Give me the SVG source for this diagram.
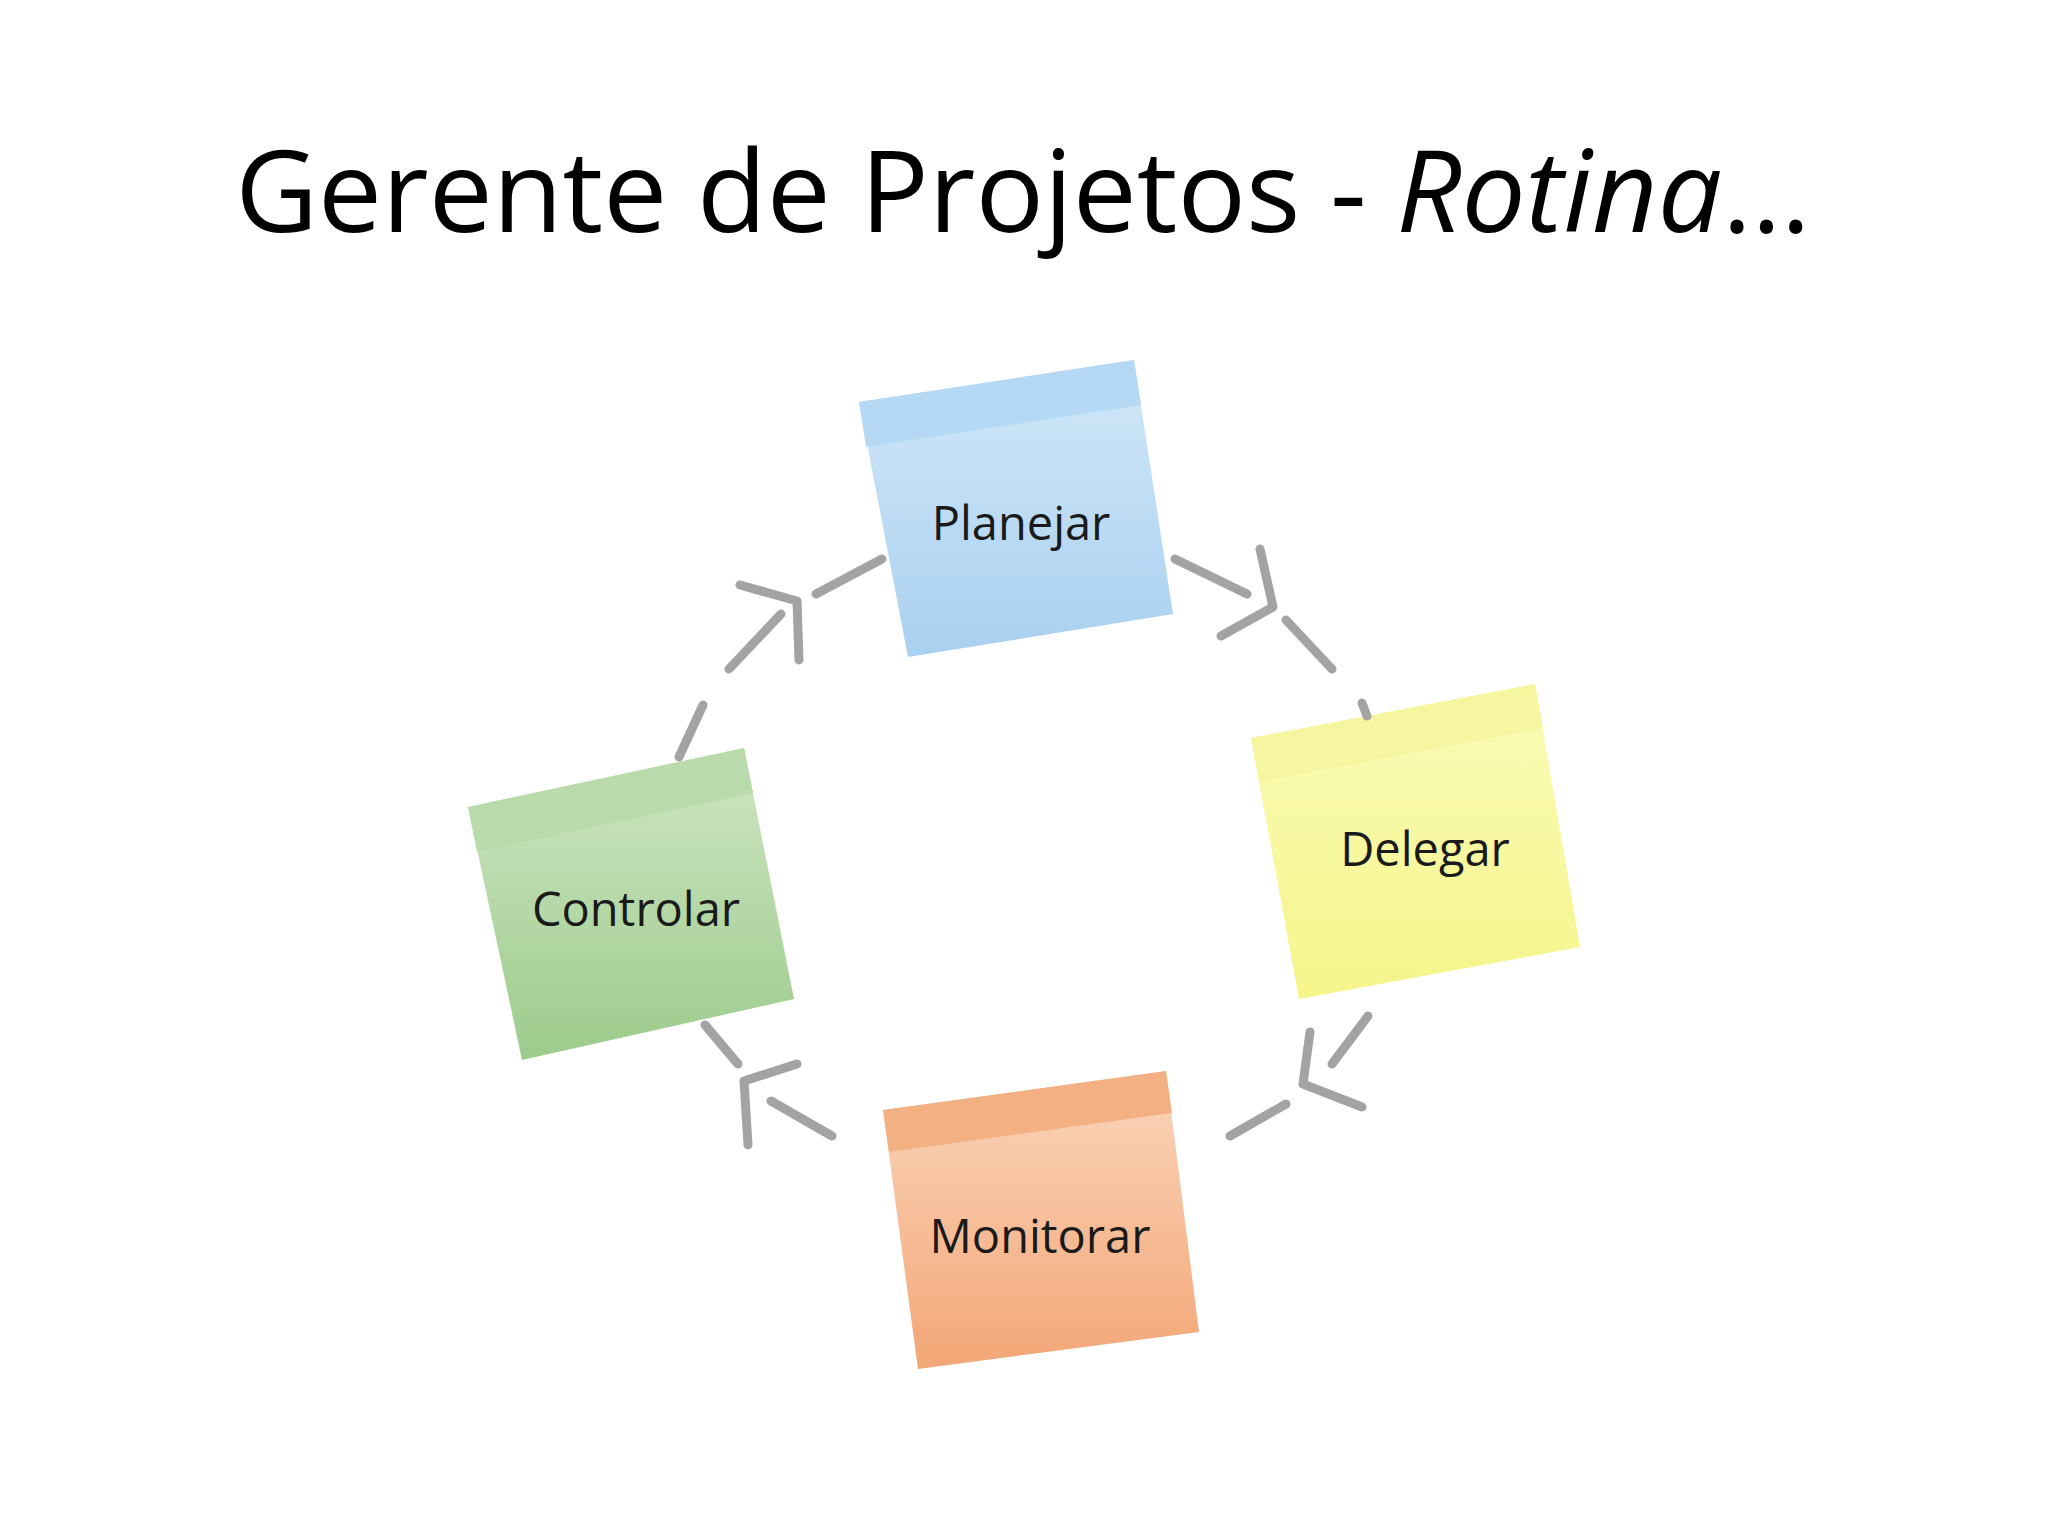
<svg xmlns="http://www.w3.org/2000/svg" width="2048" height="1536" viewBox="0 0 2048 1536">
<style>
.t{font-family:"Open Sans","Liberation Sans",sans-serif;fill:#1a1a1a;text-anchor:middle}
.c{stroke:#a3a3a3;stroke-width:9;stroke-linecap:round;stroke-linejoin:round;fill:none}
</style>
<defs>
<linearGradient id="gb" x1="0" y1="0" x2="0" y2="1"><stop offset="0" stop-color="#d2e8f8"/><stop offset="1" stop-color="#a9d0f0"/></linearGradient>
<linearGradient id="gy" x1="0" y1="0" x2="0" y2="1"><stop offset="0" stop-color="#fafbb8"/><stop offset="1" stop-color="#f5f58a"/></linearGradient>
<linearGradient id="gg" x1="0" y1="0" x2="0" y2="1"><stop offset="0" stop-color="#d0e6c4"/><stop offset="1" stop-color="#9ccb8c"/></linearGradient>
<linearGradient id="go" x1="0" y1="0" x2="0" y2="1"><stop offset="0" stop-color="#fad6bc"/><stop offset="1" stop-color="#f3a676"/></linearGradient>
</defs>
<rect width="2048" height="1536" fill="#fff"/>
<text x="1023" y="232" font-size="114" class="t" style="fill:#000">Gerente de Projetos - <tspan font-style="italic">Rotina</tspan>…</text>
<g id="planejar">
<polygon points="859,402 1134,360 1173,614 908,657" fill="url(#gb)"/>
<polygon points="859,402 1134,360 1141,405 866,447" fill="#b5d9f5"/>
<text x="1021" y="540" font-size="47" class="t">Planejar</text>
</g>
<g id="delegar">
<polygon points="1251,738 1535,684 1580,947 1299,999" fill="url(#gy)"/>
<polygon points="1251,738 1535,684 1543,728 1259,782" fill="#f6f5a0"/>
<text x="1425" y="866" font-size="47" class="t">Delegar</text>
</g>
<g id="controlar">
<polygon points="468,807 744,748 794,999 522,1060" fill="url(#gg)"/>
<polygon points="468,807 744,748 753,793 477,852" fill="#b9dbab"/>
<text x="636" y="926" font-size="47" class="t">Controlar</text>
</g>
<g id="monitorar">
<polygon points="883,1110 1166,1071 1199,1332 918,1369" fill="url(#go)"/>
<polygon points="883,1110 1166,1071 1172,1113 889,1152" fill="#f3b183"/>
<text x="1040" y="1253" font-size="47" class="t">Monitorar</text>
</g>
<g id="connectors">
<path class="c" d="M1175,559 L1247,594 M1260,549 L1273,607 L1221,636 M1286,620 L1332,669 M1362,703 L1367,716"/>
<path class="c" d="M1368,1016 L1332,1064 M1310,1032 L1303,1084 L1362,1107 M1286,1104 L1230,1136"/>
<path class="c" d="M832,1136 L771,1101 M797,1064 L744,1081 L748,1145 M738,1064 L705,1025"/>
<path class="c" d="M679,757 L703,705 M729,669 L781,614 M740,585 L797,601 L799,660 M816,594 L882,559"/>
</g>
</svg>
